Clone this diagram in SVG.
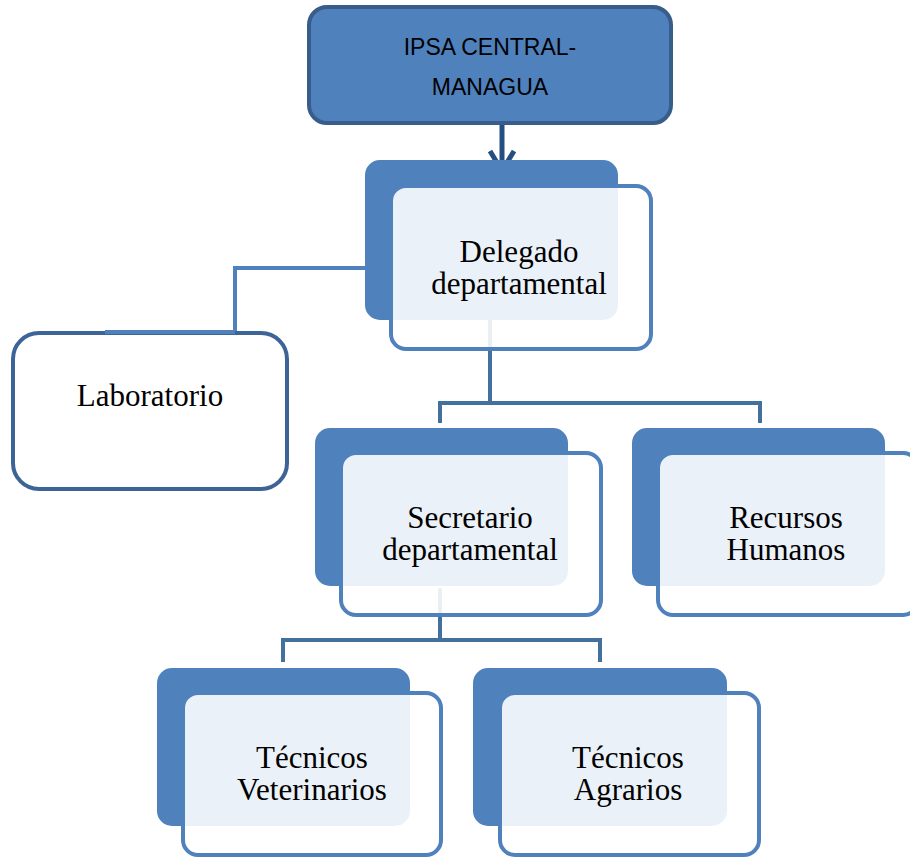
<svg xmlns="http://www.w3.org/2000/svg" width="910" height="857" viewBox="0 0 910 857">
<style>
.back{fill:#4f81bd}
.front{fill:#ffffff;fill-opacity:0.89;stroke:#4f81bd;stroke-width:4}
.t{font-family:"Liberation Serif","Times New Roman",serif;font-size:31px;fill:#000;text-anchor:middle}
.h{font-family:"Liberation Sans",Arial,sans-serif;font-size:23px;fill:#000;text-anchor:middle}
.conn{fill:none;stroke:#41719c;stroke-width:4}
.connL{fill:none;stroke:#4f81bd;stroke-width:4}
</style>
<rect width="910" height="857" fill="#fff"/>
<g id="connectors">
<path class="connL" d="M367,268 H235 V332 H105"/>
<path class="conn" d="M490,320 V403 M440,423 V403 H760 V423"/>
<path class="conn" d="M440,588 V640 M283,662 V640 H600 V662"/>
<path d="M502,123 V170" fill="none" stroke="#254e82" stroke-width="5"/>
<path d="M490,151 L502,171 L514,151" fill="none" stroke="#254e82" stroke-width="5" stroke-linejoin="miter"/>
</g>
<g id="ipsa">
<rect x="309" y="7" width="362" height="116" rx="18" fill="#4f81bd" stroke="#385d8a" stroke-width="4"/>
<text class="h" x="490" y="55">IPSA CENTRAL-</text>
<text class="h" x="490" y="95">MANAGUA</text>
</g>
<g id="delegado">
<rect class="back" x="365" y="160" width="253" height="160" rx="15"/>
<rect class="front" x="391" y="186" width="260" height="163" rx="15"/>
<text class="t" x="519" y="262">Delegado</text>
<text class="t" x="519" y="294">departamental</text>
</g>
<g id="laboratorio">
<rect x="13" y="333" width="274" height="156" rx="26" fill="#fff" stroke="#3c6496" stroke-width="4"/>
<path d="M105,332 H235" stroke="#4f81bd" stroke-width="4"/>
<text class="t" x="150" y="406">Laboratorio</text>
</g>
<g id="secretario">
<rect class="back" x="315" y="428" width="253" height="158" rx="15"/>
<rect class="front" x="341" y="453" width="260" height="162" rx="15"/>
<text class="t" x="470" y="528">Secretario</text>
<text class="t" x="470" y="560">departamental</text>
</g>
<g id="recursos">
<rect class="back" x="632" y="428" width="253" height="158" rx="15"/>
<rect class="front" x="658" y="453" width="260" height="162" rx="15"/>
<text class="t" x="786" y="528">Recursos</text>
<text class="t" x="786" y="560">Humanos</text>
</g>
<g id="veterinarios">
<rect class="back" x="157" y="668" width="253" height="158" rx="15"/>
<rect class="front" x="183" y="693" width="258" height="162" rx="15"/>
<text class="t" x="312" y="768">Técnicos</text>
<text class="t" x="312" y="800">Veterinarios</text>
</g>
<g id="agrarios">
<rect class="back" x="473" y="668" width="254" height="158" rx="15"/>
<rect class="front" x="500" y="693" width="259" height="162" rx="15"/>
<text class="t" x="628" y="768">Técnicos</text>
<text class="t" x="628" y="800">Agrarios</text>
</g>
</svg>
